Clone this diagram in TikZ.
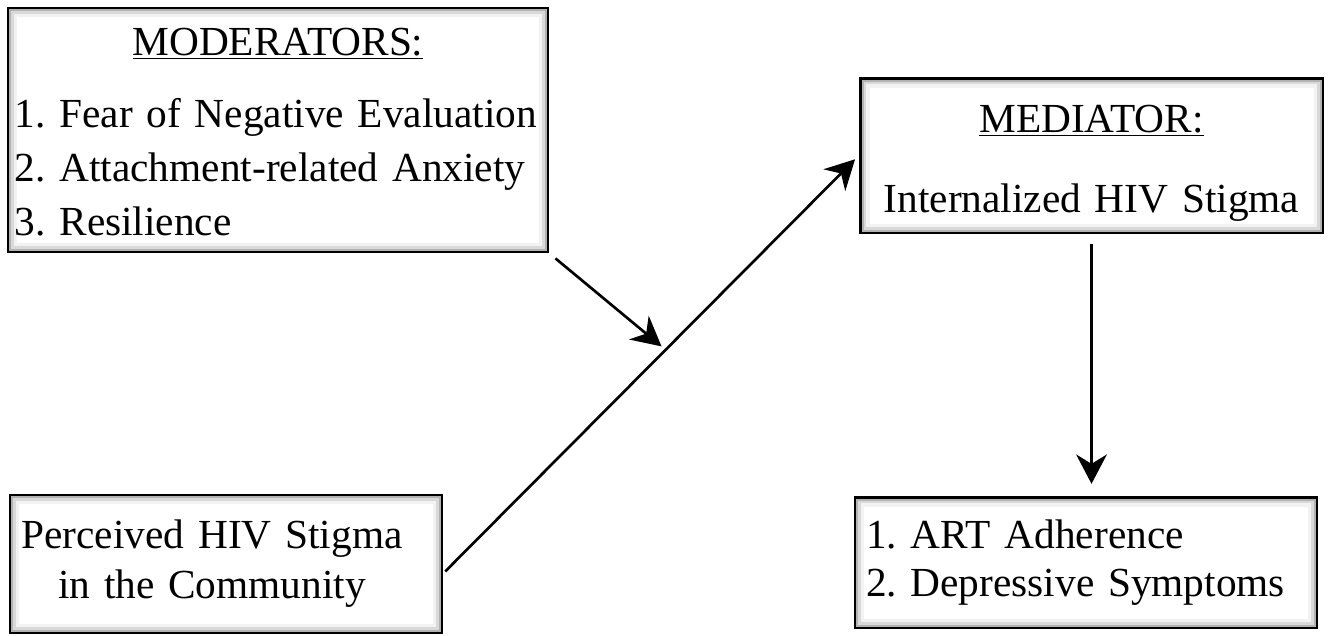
\documentclass[tikz,border=0pt]{standalone}
\usepackage{fontspec}
\setmainfont{Liberation Serif}
\usetikzlibrary{arrows.meta, calc}
\tikzset{varbox/.style={
    rectangle, draw=black, line width=2pt, fill=white, inner ysep=0pt,
    font=\fontsize{31}{39}\selectfont\frenchspacing,
    path picture={
      \draw[gray!10, line width=14pt] (path picture bounding box.south west) rectangle (path picture bounding box.north east);
      \draw[gray!30, line width=9pt] (path picture bounding box.south west) rectangle (path picture bounding box.north east);
      \draw[gray!60, line width=5pt] (path picture bounding box.south west) rectangle (path picture bounding box.north east);
    }
  },
  link/.style={line width=2pt, -{Stealth[length=22pt, width=23pt, inset=7pt]}}
}

\begin{document}
\begin{tikzpicture}[x=0.75pt, y=-0.75pt]
      \useasboundingbox (0,0) rectangle (1333,635);
      \node[varbox, minimum width=405pt, minimum height=183pt, inner xsep=5pt, text width=395pt, align=left] (mod) at (278,130)
        {\rule{0pt}{24pt}\hspace*{\fill}\underline{MODERATORS:}\hspace*{\fill}\mbox{}\\[15pt] 1. Fear of Negative Evaluation\\[1.5pt] 2. Attachment-related Anxiety\\[1.5pt] 3. Resilience};
      \node[varbox, minimum width=347pt, minimum height=116pt, inner xsep=8.5pt, text width=330pt, align=center] (med) at (1091.5,155.5)
        {\rule{0pt}{32pt}\underline{MEDIATOR:}\\[21pt] Internalized HIV Stigma};
      \node[varbox, minimum width=324pt, minimum height=103.5pt, inner xsep=12pt, text width=300pt, align=center] (perc) at (226,564)
        {\hspace*{-21pt}Perceived HIV Stigma\\[-1.5pt] \hspace*{-21pt}in the Community};
      \node[varbox, minimum width=346.5pt, minimum height=98pt, inner xsep=8pt, text width=330pt, align=left] (outc) at (1086,562.5)
        {1. ART Adherence\\[-3pt] 2. Depressive Symptoms};
      \draw[link, shorten <=2pt, shorten >=4pt] ([yshift=-7pt]perc.east) -- (med.west) coordinate[pos=0.535] (hit);
      \draw[link, shorten <=6pt, shorten >=4pt] (mod.south east) -- (hit);
      \draw[link, shorten <=7pt, shorten >=9pt] (med.south) -- (med.south |- outc.north);
    \end{tikzpicture}
\end{document}
